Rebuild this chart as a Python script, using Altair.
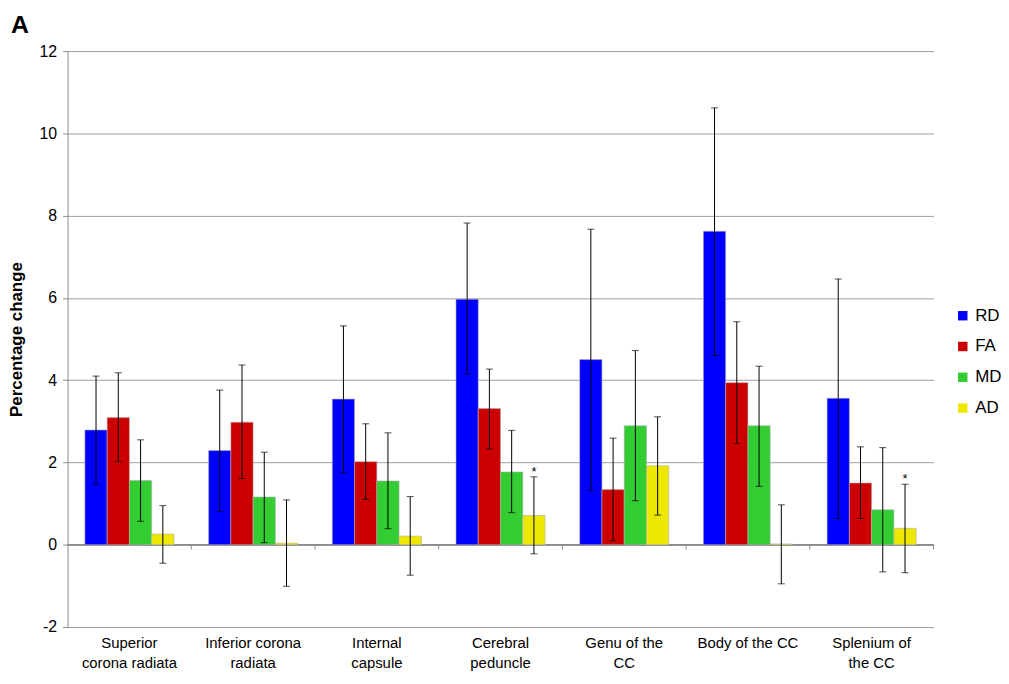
import altair as alt
import pandas as pd

categories = ["Superior|corona radiata", "Inferior corona|radiata", "Internal|capsule",
              "Cerebral|peduncle", "Genu of the|CC", "Body of the CC", "Splenium of|the CC"]
series = ["RD", "FA", "MD", "AD"]
colors = ["#0000FF", "#CC0000", "#33CC33", "#EEE800"]

rd = [2.79, 2.29, 3.54, 5.97, 4.50, 7.62, 3.56]
rd_hi = [4.10, 3.76, 5.32, 7.82, 7.67, 10.62, 6.46]
rd_lo = [1.47, 0.81, 1.75, 4.15, 1.32, 4.60, 0.64]
fa = [3.09, 2.98, 2.02, 3.31, 1.34, 3.94, 1.50]
fa_hi = [4.18, 4.37, 2.94, 4.27, 2.59, 5.42, 2.38]
fa_lo = [2.02, 1.61, 1.10, 2.33, 0.10, 2.46, 0.64]
md = [1.56, 1.16, 1.55, 1.77, 2.89, 2.89, 0.85]
md_hi = [2.55, 2.25, 2.72, 2.78, 4.72, 4.34, 2.36]
md_lo = [0.57, 0.05, 0.39, 0.78, 1.07, 1.42, -0.66]
ad = [0.26, 0.04, 0.21, 0.71, 1.92, 0.02, 0.40]
ad_hi = [0.95, 1.09, 1.17, 1.65, 3.11, 0.97, 1.47]
ad_lo = [-0.45, -1.01, -0.74, -0.22, 0.72, -0.95, -0.68]
ad_sig = [False, False, False, True, False, False, True]

vals = {"RD": (rd, rd_lo, rd_hi), "FA": (fa, fa_lo, fa_hi),
        "MD": (md, md_lo, md_hi), "AD": (ad, ad_lo, ad_hi)}
rows = []
for s in series:
    v, lo, hi = vals[s]
    for i, c in enumerate(categories):
        sig = ad_sig[i] if s == "AD" else False
        rows.append({"region": c, "measure": s, "value": v[i], "lo": lo[i], "hi": hi[i],
                     "star": "*" if sig else ""})
df = pd.DataFrame(rows)
df_cat = pd.DataFrame({"region": categories, "zero": [0] * len(categories)})

FONT = "Liberation Sans"
AXC = "#8c8c8c"


def xscale():
    return alt.Scale(domain=categories, paddingInner=0.28, paddingOuter=0.14)


def xoff():
    return alt.XOffset("measure:N", sort=series, scale=alt.Scale(domain=series))


yscale = alt.Scale(domain=[-2, 12], nice=False)
yaxis = alt.Axis(title="Percentage change", values=list(range(-2, 13, 2)),
                 labelExpr="'' + datum.value",
                 titleFont=FONT, titleFontSize=17, titleFontWeight="bold",
                 titleColor="#000000", titlePadding=14,
                 labelFont=FONT, labelFontSize=16, labelColor="#000000",
                 labelPadding=6, tickSize=5, tickColor=AXC,
                 domainColor=AXC, gridColor="#a0a0a0", gridWidth=1)
base = alt.Chart(df)

bars = base.mark_bar(stroke="#b0b0b0", strokeWidth=0.6).encode(
    x=alt.X("region:N", sort=categories, scale=xscale(),
            axis=alt.Axis(title=None, domain=False, ticks=False, labelAngle=0,
                          labelExpr="split(datum.label, '|')", labelFontSize=15,
                          labelFont=FONT, labelColor="#000000", labelPadding=16,
                          labelLineHeight=20, labelBaseline="middle")),
    xOffset=xoff(),
    y=alt.Y("value:Q", scale=yscale, axis=yaxis),
    color=alt.Color("measure:N", sort=series,
                    scale=alt.Scale(domain=series, range=colors),
                    legend=alt.Legend(title=None, orient="none", legendX=893, legendY=258,
                                      symbolType="square", symbolSize=90,
                                      symbolStrokeWidth=0, labelFont=FONT,
                                      labelFontSize=17, labelColor="#000000",
                                      rowPadding=13, padding=0, labelOffset=4)),
)

zero_line = alt.Chart(df_cat).mark_rule(color=AXC, strokeWidth=1).encode(
    x=alt.value(0), x2=alt.value(872),
    y=alt.Y("zero:Q", scale=yscale, axis=yaxis),
)

zero_ticks = alt.Chart(df_cat).mark_rule(color=AXC, strokeWidth=1).encode(
    x=alt.X("region:N", sort=categories,
            scale=alt.Scale(domain=categories, paddingInner=0, paddingOuter=0),
            bandPosition=1, axis=None),
    y=alt.Y("zero:Q", scale=yscale, axis=yaxis),
    y2=alt.value(502),
)

rules = base.mark_rule(color="#000000", strokeWidth=1).encode(
    x=alt.X("region:N", sort=categories, scale=xscale(), axis=None),
    xOffset=xoff(),
    y=alt.Y("lo:Q", scale=yscale, axis=yaxis),
    y2="hi:Q",
)

caps_hi = base.mark_tick(color="#000000", thickness=1, size=7).encode(
    x=alt.X("region:N", sort=categories, scale=xscale(), axis=None),
    xOffset=xoff(),
    y=alt.Y("hi:Q", scale=yscale, axis=yaxis),
)
caps_lo = base.mark_tick(color="#000000", thickness=1, size=7).encode(
    x=alt.X("region:N", sort=categories, scale=xscale(), axis=None),
    xOffset=xoff(),
    y=alt.Y("lo:Q", scale=yscale, axis=yaxis),
)

stars = base.mark_text(dy=-5, fontSize=13, font=FONT, color="#000000").encode(
    x=alt.X("region:N", sort=categories, scale=xscale(), axis=None),
    xOffset=xoff(),
    y=alt.Y("hi:Q", scale=yscale, axis=yaxis),
    text="star:N",
)

label_a = alt.Chart(pd.DataFrame({"t": ["A"]})).mark_text(
    fontSize=25, fontWeight="bold", font=FONT, align="left", baseline="top", color="#000000"
).encode(text="t:N", x=alt.value(-57), y=alt.value(-38))

chart = alt.layer(zero_line, zero_ticks, bars, rules, caps_hi, caps_lo, stars, label_a).resolve_scale(
    x="independent"
).properties(
    width=872, height=580,
    autosize=alt.AutoSizeParams(type="none"),
    padding={"left": 60, "top": 41, "right": 68, "bottom": 55},
    background="#ffffff",
).configure_view(stroke=None)

chart.save("out.html", embed_options={"renderer": "svg", "actions": False})
